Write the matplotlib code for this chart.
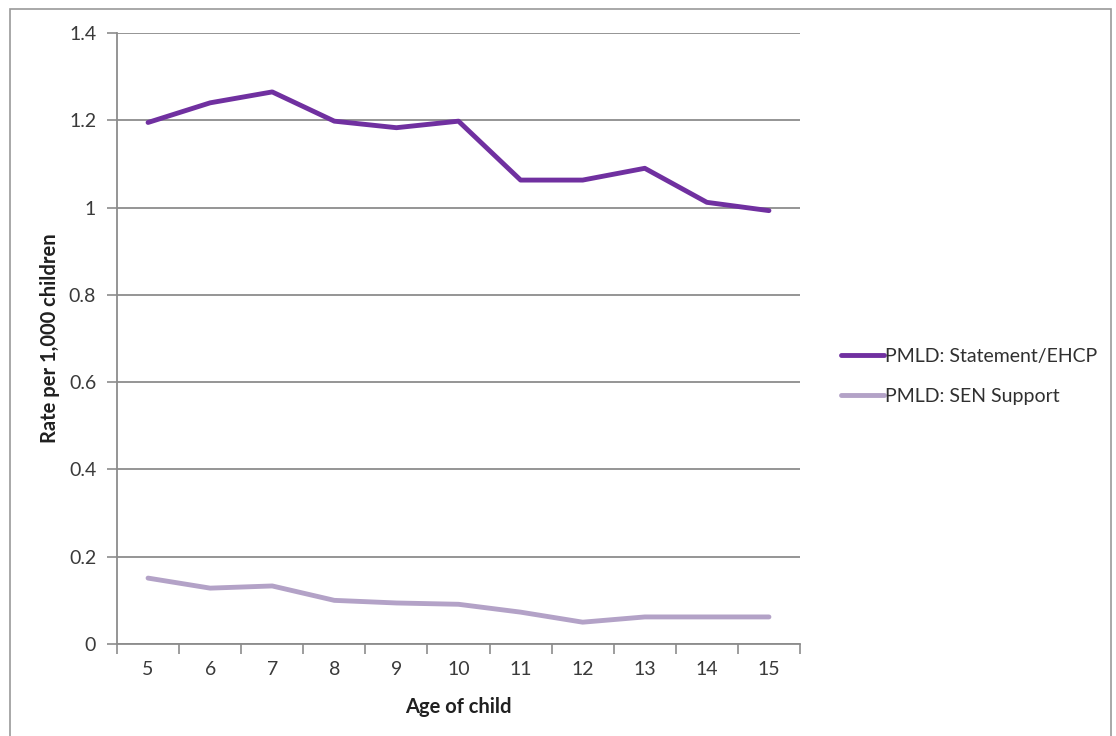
import matplotlib
matplotlib.use("Agg")
import matplotlib.pyplot as plt
from matplotlib.patches import Rectangle

ages = [5, 6, 7, 8, 9, 10, 11, 12, 13, 14, 15]
statement_ehcp = [1.195, 1.24, 1.265, 1.198, 1.183, 1.198, 1.063, 1.063, 1.09, 1.012, 0.993]
sen_support = [0.151, 0.128, 0.133, 0.100, 0.094, 0.091, 0.073, 0.050, 0.062, 0.062, 0.062]
y_ticks = [0, 0.2, 0.4, 0.6, 0.8, 1.0, 1.2, 1.4]
y_tick_labels = ["0", "0.2", "0.4", "0.6", "0.8", "1", "1.2", "1.4"]
series_labels = ["PMLD: Statement/EHCP", "PMLD: SEN Support"]

plt.rcParams["font.family"] = ["Lato", "DejaVu Sans"]

fig = plt.figure(figsize=(11.16, 7.36), dpi=100)
fig.patch.set_facecolor("white")

# outer frame around the chart
fig.patches.append(Rectangle((10 / 1116, -0.01), 1101 / 1116, 1 - 9 / 736 + 0.01,
                             transform=fig.transFigure, fill=False,
                             edgecolor="#9a9a9a", linewidth=1.2))

ax = fig.add_axes([117 / 1116, 1 - 644 / 736, 683 / 1116, 611 / 736])

grid_c = "#8c8c8c"
ax.plot(ages, statement_ehcp, color="#7030A0", linewidth=3.5,
        solid_joinstyle="round", solid_capstyle="round", label=series_labels[0])
ax.plot(ages, sen_support, color="#B3A2C7", linewidth=3.5,
        solid_joinstyle="round", solid_capstyle="round", label=series_labels[1])

ax.set_xlim(4.5, 15.5)
ax.set_ylim(0, 1.4)

ax.set_yticks(y_ticks)
ax.set_yticklabels(y_tick_labels)
ax.yaxis.grid(True, color=grid_c, linewidth=1.3)
ax.set_axisbelow(True)

# category boundaries carry the tick marks; labels sit at category centres
ax.set_xticks([a - 0.5 for a in ages] + [ages[-1] + 0.5])
ax.set_xticklabels([])
ax.set_xticks(ages, minor=True)
ax.set_xticklabels([str(a) for a in ages], minor=True)
ax.tick_params(axis="x", which="major", length=7, width=1.2, color=grid_c, direction="out")
ax.tick_params(axis="x", which="minor", length=0, pad=12, labelsize=14, labelcolor="#3a3a3a")
ax.tick_params(axis="y", length=7, width=1.2, color=grid_c, pad=8, labelsize=14,
               labelcolor="#3a3a3a")

for side in ("top", "right"):
    ax.spines[side].set_visible(False)
ax.spines["left"].set_color(grid_c)
ax.spines["bottom"].set_color(grid_c)
ax.spines["left"].set_linewidth(1.3)
ax.spines["bottom"].set_linewidth(1.3)

ax.set_xlabel("Age of child", fontsize=14.5, fontweight="bold", color="#202020", labelpad=14)
ax.set_ylabel("Rate per 1,000 children", fontsize=14.5, fontweight="bold", color="#202020",
              labelpad=6)

leg = ax.legend(loc="center left", bbox_to_anchor=(1.035, 0.438), frameon=False,
                fontsize=14, handlelength=2.2, handletextpad=0.05, labelspacing=1.15,
                labelcolor="#303030")

fig.savefig("out.png", dpi=100, facecolor="white")
